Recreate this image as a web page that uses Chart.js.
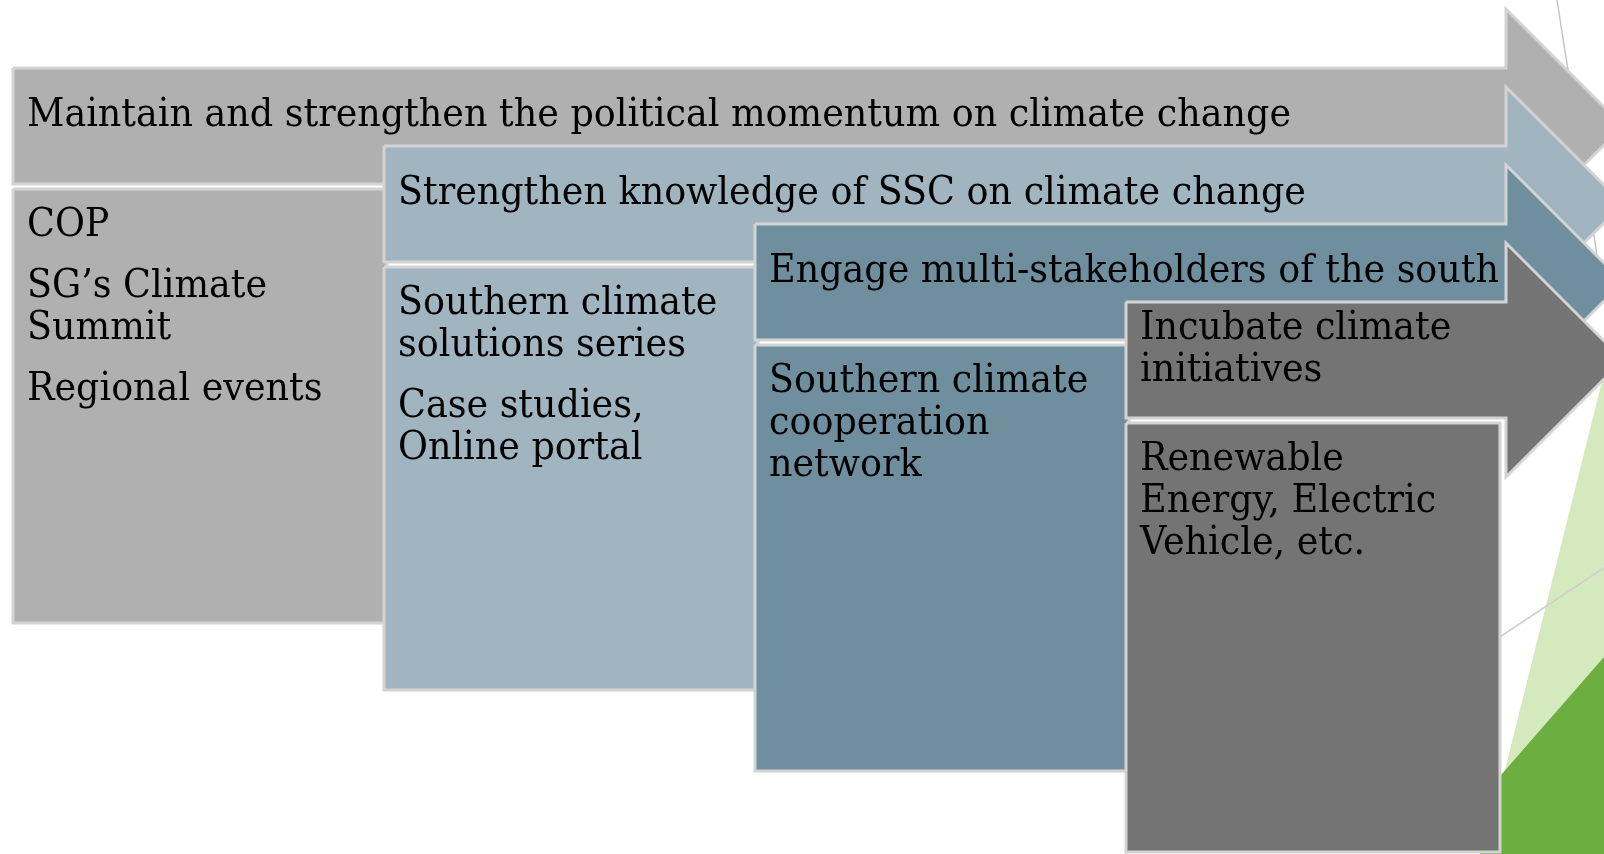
<!DOCTYPE html>
<html>
<head>
<meta charset="utf-8">
<script src="https://cdn.jsdelivr.net/npm/chart.js@4/dist/chart.umd.min.js"></script>
<style>
  html, body { margin: 0; padding: 0; background: #fff; }
  #stage { display: block; }
</style>
</head>
<body>
<canvas id="stage" width="1604" height="854"></canvas>
<script>
// stages, left to right: header arrow text + body paragraphs (lines as wrapped in the slide)
const stageTitles = [
  ['Maintain and strengthen the political momentum on climate change'],
  ['Strengthen knowledge of SSC on climate change'],
  ['Engage multi-stakeholders of the south'],
  ['Incubate climate', 'initiatives'],
];
const stageItems = [
  [['COP'], ['SG’s Climate', 'Summit'], ['Regional events']],
  [['Southern climate', 'solutions series'], ['Case studies,', 'Online portal']],
  [['Southern climate', 'cooperation', 'network']],
  [['Renewable', 'Energy, Electric', 'Vehicle, etc.']],
];
const stageColors = ['#b0b0b0', '#a0b5c0', '#6f8f9f', '#747474'];

// layout (canvas units, y down)
const W = 1604, H = 854;
const COL_LEFT = 13, COL_STEP = 371, BOX_W = 374;
const SHAFT_TOP = 68, ROW_STEP = 78, SHAFT_H = 116;
const HEAD_X = 1506, HEAD_HALF = 117;
const BODY_GAP = 5;
const bodyBottom = [623, 690, 771, 852];
const FONT_SIZE = 40, TITLE_W = 1264, LINE_H = 42, PARA_GAP = 19;
const BORDER = '#d3d3d3';

function arrowShape(i) {
  const l = COL_LEFT + i * COL_STEP, t = SHAFT_TOP + i * ROW_STEP, b = t + SHAFT_H;
  const c = (t + b) / 2;
  return [
    { x: l, y: t }, { x: HEAD_X, y: t }, { x: HEAD_X, y: c - HEAD_HALF },
    { x: HEAD_X + HEAD_HALF, y: c }, { x: HEAD_X, y: c + HEAD_HALF },
    { x: HEAD_X, y: b }, { x: l, y: b }, { x: l, y: t },
  ];
}

function bodyShape(i) {
  const l = COL_LEFT + i * COL_STEP, r = Math.min(l + BOX_W, 1501);
  const t = SHAFT_TOP + i * ROW_STEP + SHAFT_H + BODY_GAP, b = bodyBottom[i];
  return [{ x: l, y: t }, { x: r, y: t }, { x: r, y: b }, { x: l, y: b }, { x: l, y: t }];
}

function shape(points, fill, stroke, width) {
  return {
    data: points,
    backgroundColor: fill || 'rgba(0,0,0,0)',
    borderColor: stroke,
    borderWidth: width,
    fill: fill ? 'shape' : false,
    pointRadius: 0,
    tension: 0,
    borderJoinStyle: 'miter',
  };
}

// slide background decoration at the right edge
const decor = [
  shape([{ x: 1604, y: 373 }, { x: 1484, y: 854 }, { x: 1604, y: 854 }, { x: 1604, y: 373 }], '#d5e9bf', 'rgba(0,0,0,0)', 0),
  shape([{ x: 1604, y: 657 }, { x: 1480, y: 799 }, { x: 1480, y: 854 }, { x: 1604, y: 854 }, { x: 1604, y: 657 }], '#6cae40', 'rgba(0,0,0,0)', 0),
  shape([{ x: 1557, y: 0 }, { x: 1604, y: 300 }], null, '#c4c4c4', 1.5),
  shape([{ x: 1480, y: 650 }, { x: 1604, y: 568 }], null, '#cfcfcf', 1.5),
];

const stageSets = [];
stageTitles.forEach((_, i) => {
  stageSets.push(shape(arrowShape(i), stageColors[i], BORDER, 3));
  stageSets.push(shape(bodyShape(i), stageColors[i], BORDER, 3));
});

// later datasets must paint on top: higher order paints first
const datasets = [...decor, ...stageSets].map((d, k, all) => ({ ...d, order: all.length - k }));

const textPlugin = {
  id: 'stageText',
  afterDatasetsDraw(chart) {
    const { ctx, scales: { x, y } } = chart;
    ctx.save();
    ctx.font = `${FONT_SIZE}px "DejaVu Serif", Georgia, serif`;
    ctx.fillStyle = '#000';
    ctx.textBaseline = 'alphabetic';
    const squeeze = TITLE_W / ctx.measureText(stageTitles[0][0]).width;
    const put = (text, cx, cy) => {
      ctx.save();
      ctx.translate(x.getPixelForValue(cx), y.getPixelForValue(cy));
      ctx.scale(squeeze, 1);
      ctx.fillText(text, 0, 0);
      ctx.restore();
    };
    stageTitles.forEach((lines, i) => {
      const tx = COL_LEFT + i * COL_STEP + 14;
      const mid = SHAFT_TOP + i * ROW_STEP + SHAFT_H / 2;
      lines.forEach((line, k) => put(line, tx, mid + (k - (lines.length - 1) / 2) * LINE_H));
    });
    stageItems.forEach((paras, i) => {
      const tx = COL_LEFT + i * COL_STEP + 14;
      let by = SHAFT_TOP + i * ROW_STEP + SHAFT_H + BODY_GAP + 47;
      paras.forEach((lines) => {
        lines.forEach((line) => { put(line, tx, by); by += LINE_H; });
        by += PARA_GAP;
      });
    });
    ctx.restore();
  },
};

new Chart(document.getElementById('stage'), {
  type: 'line',
  data: { datasets },
  options: {
    responsive: false,
    devicePixelRatio: 1,
    animation: false,
    events: [],
    layout: { padding: 0 },
    plugins: { legend: { display: false }, tooltip: { enabled: false }, filler: { drawTime: 'beforeDatasetDraw' } },
    scales: {
      x: { type: 'linear', min: 0, max: W, display: false },
      y: { type: 'linear', min: 0, max: H, reverse: true, display: false },
    },
  },
  plugins: [textPlugin],
});
</script>
</body>
</html>
